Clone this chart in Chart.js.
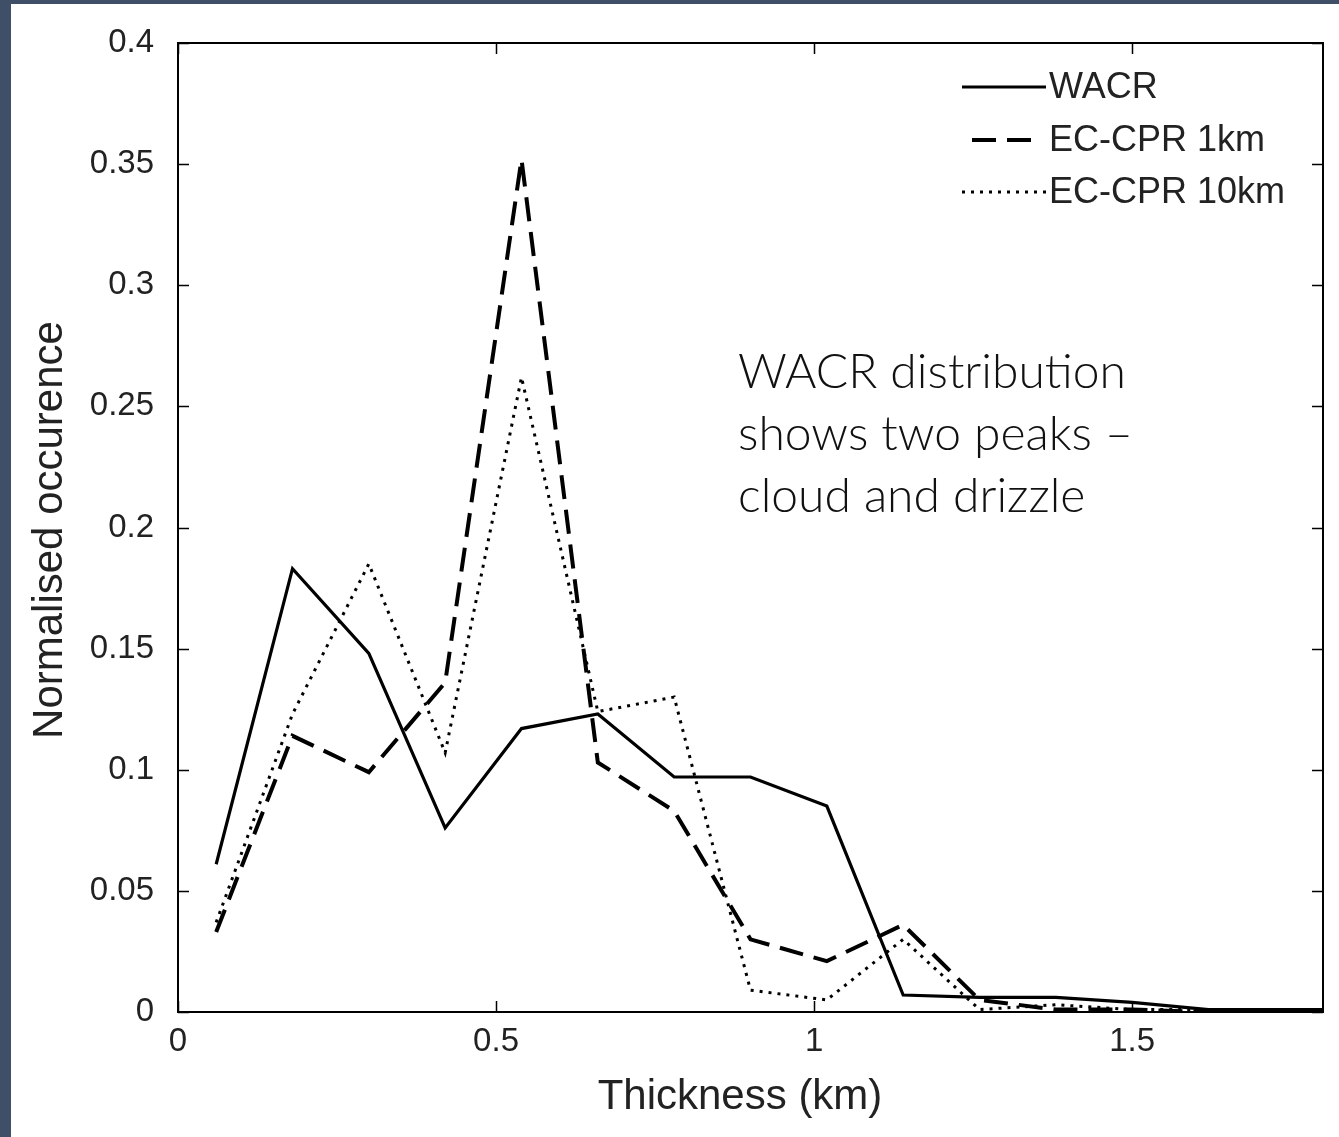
<!DOCTYPE html>
<html>
<head>
<meta charset="utf-8">
<script src="https://cdn.jsdelivr.net/npm/chart.js@4.4.1/dist/chart.umd.min.js"></script>
<style>
  html, body { margin: 0; padding: 0; background: #3e4f67; overflow: hidden; }
  #wrap { position: absolute; left: 0; top: 0; width: 1339px; height: 1137px; }
</style>
</head>
<body>
<div id="wrap"><canvas id="thick"></canvas></div>
<script>
// bin centres (km) and normalised occurrence for each instrument
const thickness = [0.06, 0.18, 0.30, 0.42, 0.54, 0.66, 0.78, 0.90, 1.02, 1.14, 1.26, 1.38, 1.50, 1.62, 1.74, 1.86];
const wacr   = [0.061, 0.183, 0.148, 0.076, 0.117, 0.123, 0.097, 0.097, 0.085, 0.007, 0.006, 0.006, 0.004, 0.001, 0.001, 0.001];
const cpr1   = [0.033, 0.114, 0.099, 0.136, 0.352, 0.103, 0.083, 0.030, 0.021, 0.036, 0.005, 0.001, 0.001, 0.000, 0.000, 0.000];
const cpr10  = [0.037, 0.123, 0.185, 0.107, 0.262, 0.124, 0.130, 0.009, 0.005, 0.030, 0.001, 0.003, 0.001, 0.001, 0.000, 0.000];

const xTicks = [0, 0.5, 1, 1.5];
const yTicks = [0, 0.05, 0.1, 0.15, 0.2, 0.25, 0.3, 0.35, 0.4];
const seriesNames = ['WACR', 'EC-CPR 1km', 'EC-CPR 10km'];
const note = ['WACR distribution', 'shows two peaks \u2013', 'cloud and drizzle'];

const pts = (ys) => thickness.map((x, i) => ({x: x, y: ys[i]}));

const styles = [
  {borderWidth: 3.2, borderDash: []},
  {borderWidth: 4, borderDash: [24, 11]},
  {borderWidth: 3, borderDash: [3, 6]}
];

const axisFont = {family: 'Liberation Sans, Arial, sans-serif', size: 33};

const frame = {
  id: 'frame',
  beforeDraw(chart) {
    const c = chart.ctx;
    c.save();
    c.fillStyle = '#3e4f67';
    c.fillRect(0, 0, chart.width, chart.height);
    c.fillStyle = '#ffffff';
    c.fillRect(11, 4, chart.width - 11, chart.height - 4);
    c.restore();
  },
  afterDraw(chart) {
    const c = chart.ctx, a = chart.chartArea;
    const xs = chart.scales.x, ys = chart.scales.y;
    c.save();
    c.strokeStyle = '#000';
    c.lineWidth = 2;
    c.strokeRect(a.left, a.top, a.right - a.left, a.bottom - a.top);
    c.beginPath();
    xTicks.forEach(v => {
      const px = Math.round(xs.getPixelForValue(v)) + 0.5;
      c.moveTo(px, a.bottom); c.lineTo(px, a.bottom - 11);
      c.moveTo(px, a.top); c.lineTo(px, a.top + 11);
    });
    yTicks.forEach(v => {
      const py = Math.round(ys.getPixelForValue(v)) + 0.5;
      c.moveTo(a.left, py); c.lineTo(a.left + 11, py);
      c.moveTo(a.right, py); c.lineTo(a.right - 11, py);
    });
    c.lineWidth = 1.5;
    c.stroke();

    // axis titles
    c.fillStyle = '#222';
    c.font = '42px Liberation Sans, Arial, sans-serif';
    c.textAlign = 'center';
    c.textBaseline = 'middle';
    c.fillText('Thickness (km)', 740, 1097);
    c.save();
    c.translate(50, 530);
    c.rotate(-Math.PI / 2);
    c.fillText('Normalised occurence', 0, 0);
    c.restore();

    // legend
    const rows = [87, 140, 192];
    c.font = '36px Liberation Sans, Arial, sans-serif';
    c.textAlign = 'left';
    rows.forEach((y, i) => {
      const st = styles[i];
      c.beginPath();
      c.setLineDash(st.borderDash);
      c.lineWidth = st.borderWidth;
      if (i === 1) { c.moveTo(972, y); c.lineTo(1036, y); }
      else { c.moveTo(962, y); c.lineTo(1046, y); }
      c.stroke();
      c.setLineDash([]);
      c.fillText(seriesNames[i], 1049, y + 1);
    });

    // annotation
    c.fillStyle = '#111';
    c.font = '300 48px Lato, sans-serif';
    c.textBaseline = 'alphabetic';
    note.forEach((t, i) => c.fillText(t, 738, 388 + i * 62));
    c.restore();
  }
};

new Chart(document.getElementById('thick'), {
  type: 'line',
  data: {
    datasets: [wacr, cpr1, cpr10].map((ys, i) => ({
      label: seriesNames[i],
      data: pts(ys),
      borderColor: '#000',
      borderWidth: styles[i].borderWidth,
      borderDash: styles[i].borderDash,
      pointRadius: 0,
      tension: 0,
      fill: false
    }))
  },
  options: {
    responsive: true,
    maintainAspectRatio: false,
    animation: false,
    layout: {padding: {top: 43, right: 16, left: 0, bottom: 0}},
    plugins: {legend: {display: false}, tooltip: {enabled: false}},
    scales: {
      x: {
        type: 'linear', min: 0, max: 1.8,
        afterBuildTicks: s => { s.ticks = xTicks.map(v => ({value: v})); },
        afterFit: s => { s.height = 125; },
        grid: {display: false}, border: {display: false},
        ticks: {font: axisFont, color: '#222', padding: 2, maxRotation: 0,
                callback: v => String(v)}
      },
      y: {
        min: 0, max: 0.4,
        afterBuildTicks: s => { s.ticks = yTicks.map(v => ({value: v})); },
        afterFit: s => { s.width = 178; },
        grid: {display: false}, border: {display: false},
        ticks: {font: axisFont, color: '#222', padding: 16,
                callback: v => String(+v.toFixed(2))}
      }
    }
  },
  plugins: [frame]
});
</script>
</body>
</html>
